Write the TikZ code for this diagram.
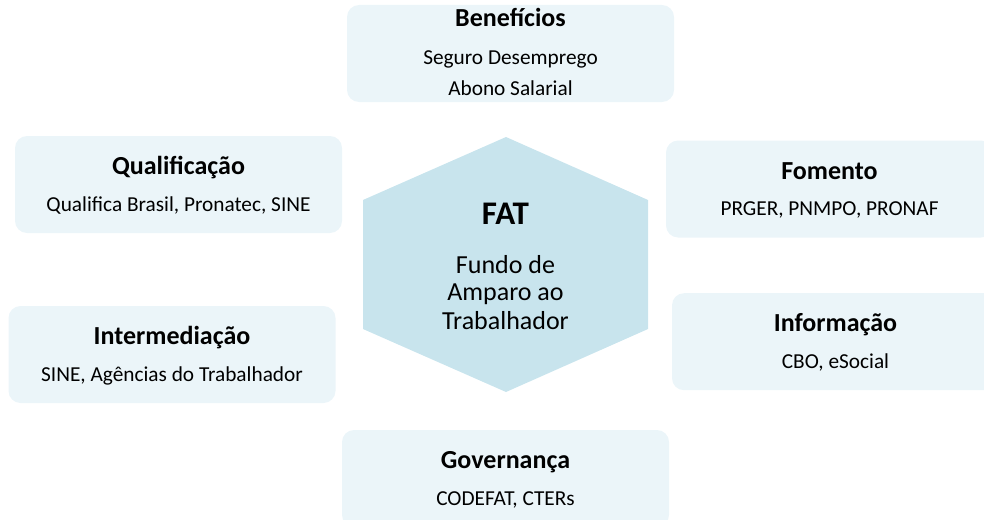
\documentclass[tikz,border=0pt]{standalone}
\usepackage{fontspec}
\setmainfont{Carlito}
\usepackage{tikz}
\usetikzlibrary{shapes,positioning,calc}
\definecolor{panelblue}{RGB}{235,245,249}
\definecolor{hexblue}{RGB}{200,228,237}

\begin{document}
\begin{tikzpicture}
  [
    x=1pt, y=-1pt,
    Panel/.style={rectangle, rounded corners=12pt, fill=panelblue, minimum width=327pt, minimum height=97pt, inner sep=0pt},
    Head/.style={anchor=base, inner sep=0pt, font=\fontsize{26}{31}\selectfont\bfseries},
    Item/.style={anchor=base, inner sep=0pt, font=\fontsize{21.3}{26}\selectfont},
    Big/.style={anchor=base, inner sep=0pt, font=\fontsize{33}{40}\selectfont\bfseries},
    Mid/.style={anchor=base, inner sep=0pt, font=\fontsize{26}{31}\selectfont}
  ]
  \clip (0,0) rectangle (984,519);
  % Hexagon
  \fill[hexblue] (506,137) -- (648,200) -- (648,329) -- (506,392) -- (363,329) -- (363,200) -- cycle;
  \node[Big] (fat) at (505.5,224) {FAT};
  \node[Mid] (fundo) at (505.5,273) {Fundo de};
  \node[Mid] (amparo) at (505.5,300) {Amparo ao};
  \node[Mid] (trab) at (505.5,329) {Trabalhador};
  % Panels
  \node[Panel] (benef) at (510.5,53.5) {};
  \node[Head] (benefT) at ($(benef)+(0,-26.5)$) {Benefícios};
  \node[Item] (benefA) at ($(benef)+(0,10.5)$) {Seguro Desemprego};
  \node[Item] (benefB) at ($(benef)+(0,41.5)$) {Abono Salarial};
  \node[Panel] (qual) at (178.5,184.5) {};
  \node[Head] (qualT) at ($(qual)+(0,-10)$) {Qualificação};
  \node[Item] (qualA) at ($(qual)+(0,26.5)$) {Qualifica Brasil, Pronatec, SINE};
  \node[Panel] (inter) at (172,354.5) {};
  \node[Head] (interT) at ($(inter)+(0,-10)$) {Intermediação};
  \node[Item] (interA) at ($(inter)+(0,26.5)$) {SINE, Agências do Trabalhador};
  \node[Panel] (fom) at (829.5,189) {};
  \node[Head] (fomT) at ($(fom)+(0,-10)$) {Fomento};
  \node[Item] (fomA) at ($(fom)+(0,26.5)$) {PRGER, PNMPO, PRONAF};
  \node[Panel] (info) at (835.5,341.7) {};
  \node[Head] (infoT) at ($(info)+(0,-10)$) {Informação};
  \node[Item] (infoA) at ($(info)+(0,26.5)$) {CBO, eSocial};
  \node[Panel] (gov) at (505.5,478.5) {};
  \node[Head] (govT) at ($(gov)+(0,-10)$) {Governança};
  \node[Item] (govA) at ($(gov)+(0,26.5)$) {CODEFAT, CTERs};
\end{tikzpicture}
\end{document}
